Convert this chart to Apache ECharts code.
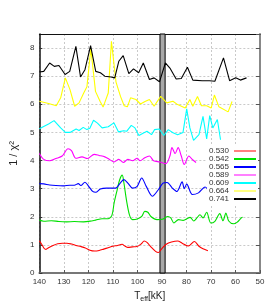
<!DOCTYPE html>
<html><head><meta charset="utf-8">
<script src="https://cdn.jsdelivr.net/npm/echarts@6/dist/echarts.min.js"></script>
<style>html,body{margin:0;padding:0;background:#fff}#c{width:274px;height:308px}</style>
</head><body><div id="c"></div>
<script>
const seriesNames = ['0.530','0.542','0.565','0.589','0.609','0.664','0.741'];
const xTicks = [140,130,120,110,100,90,80,70,60,50];
const yTicks = [0,1,2,3,4,5,6,7,8];

const T_530 = [140,139.25,138.1,137.3,136.25,134.4,132.5,130.6,128.75,126.9,125,123.1,121.25,119.4,117.5,115.6,113.75,111.9,110,108.1,106.25,105.1,103.9,102,100.25,98.4,97.25,96.1,94.5,92.6,91.4,90.1,88.25,86.1,83.6,81.75,79.25,76.75,74.9,73.25,71.25];
const V_530 = [1.14,1.05,0.88,0.84,0.9,0.98,1.04,1.06,1.06,1.03,0.98,0.94,0.89,0.81,0.78,0.8,0.85,0.9,0.95,0.98,1.02,0.96,0.91,0.93,0.94,1.04,1.14,1.09,0.93,0.77,0.73,0.86,1.02,1.1,1.14,1.06,0.96,1.12,0.95,0.86,0.79];

const T_542 = [140,138.2,135.1,132,128.9,125.75,122,118.75,117,114.4,112,110.4,109.5,108.25,107.3,106.2,105.5,104.5,103.25,102,100.1,98.25,97,95.75,94.5,92,89.5,87.6,86.4,85.1,83.25,81.4,80,78.5,77,75.75,74.5,73.25,71.75,70.1,68.4,66.4,65.1,63.9,62.75,60.8,59.4,57.6,57.1];
const V_542 = [1.88,1.84,1.86,1.83,1.82,1.83,1.82,1.85,1.88,1.93,1.93,2.05,2.49,2.96,3.3,3.48,3.2,2.61,2.07,1.9,1.92,2.01,2.19,2.16,2.01,1.9,1.92,2.01,1.96,1.78,1.9,1.87,1.92,1.98,1.85,1.96,2.07,1.96,2.16,1.78,1.84,2.11,1.86,2.13,1.85,1.75,1.8,1.96,1.98];

const T_565 = [140,138.2,135.8,133.25,130.1,127.6,125.75,124.1,123.1,121.4,120.1,118.25,117,115.1,112.6,110.1,108.9,107,105.5,103.9,102,100.1,98.25,96.4,93.9,91.4,89.5,87.9,85.75,83.9,81.75,80.9,79.9,77.6,75.1,72.4,70.5];
const V_565 = [3.18,3.17,3.13,3.11,3.1,3.12,3.12,3.18,3.11,3.23,3.11,2.9,2.87,2.99,3.02,3.02,3.02,3.2,3.32,3.2,3.02,3.08,3.38,3.08,2.73,2.97,3.2,3.22,3.02,2.9,3.24,3.0,3.16,2.79,2.85,3.06,2.85];

const T_589 = [140,138.2,135.8,133.25,130.7,128.3,126.9,125.1,122.6,120.4,117.6,115.6,113.3,111.4,109.5,107.6,105.75,103.9,102,100.1,98.9,97,95.1,93.4,90.9,88.4,86.75,85.9,84.6,83.4,82.1,80.9,79,77.75,76.1];
const V_589 = [4.25,4.04,3.99,4.07,4.16,4.42,4.35,4.08,4.13,4.07,4.22,4.18,4.13,4.04,3.95,4.04,3.93,4.04,3.99,4.08,3.99,4.1,4.16,3.99,3.95,3.89,4.16,4.46,4.25,4.46,4.16,3.86,4.16,4.05,3.93];

const T_609 = [140,136.25,134,131.3,129.4,127.5,125,123.8,122.1,120.6,119.4,117.9,116.3,114.4,111.9,109.6,107.75,105.6,104.4,102.5,101,99.4,97.5,96.1,94.25,93,91.1,89.25,87.4,85.5,83.6,81.4,79.9,78.6,77.1,74.9,73.25,71.75,70.5,69.25,67.4,66.1];
const V_609 = [5.13,5.3,5.42,5.16,5.0,5.0,5.12,5.07,5.18,5.1,5.15,5.43,5.33,5.16,5.2,5.34,5.02,5.06,5.04,5.25,5.16,4.89,4.98,5.04,4.92,5.1,5.12,4.89,5.1,4.99,4.92,5.0,5.84,5.16,4.72,4.92,5.57,4.77,5.6,5.16,5.46,4.74];

const T_664 = [140,136.25,133.1,131.3,129.4,127.5,125.6,123.8,121.9,120.6,119,117.1,115.25,114,111.9,110.6,108.75,106.9,105.4,104.1,102.8,100.6,98.75,96.9,95.1,93.2,90.5,88,85.5,83.6,80.5,78.6,77.4,75.5,73.9,71.75,69.9,68.6,66.75,63,61.4];
const V_664 = [6.11,6.03,5.95,6.23,6.94,6.52,5.93,6.05,6.4,6.62,7.97,6.46,6.11,5.9,6.4,8.24,6.8,6.28,5.95,5.91,6.23,6.17,6.01,6.1,6.17,5.93,6.28,6.05,6.11,5.99,5.87,6.17,5.93,6.28,5.95,5.95,5.87,6.33,5.91,5.73,6.1];

const T_741 = [140,138.2,135.8,133.9,132,129.5,127.6,125.1,123.2,121.4,119.1,117,115.1,113.3,110.75,109.25,107.6,105.8,103.5,101.6,99.5,97.6,95.1,93.2,91,88.6,86.75,84.2,82.1,79.6,77.4,73.6,70.6,68.4,64.9,62.4,59.9,58,55.5];
const V_741 = [7.15,7.17,7.47,7.35,7.38,7.06,7.17,8.06,6.97,7.23,8.09,7.17,7.12,7.0,6.97,6.94,7.53,7.73,7.09,7.26,7.12,7.47,6.88,6.94,6.8,7.47,7.29,6.9,6.92,7.32,6.86,6.84,6.84,6.82,7.65,6.84,6.94,6.86,6.94];

const bandRange = [88.7, 90.8];

const Ts = [T_530,T_542,T_565,T_589,T_609,T_664,T_741];
const Vs = [V_530,V_542,V_565,V_589,V_609,V_664,V_741];
const colors = ['#ff0000','#00e000','#0000ff','#ff00ff','#00ffff','#ffff00','#000000'];
const legendColors = ['#ff8080','#00e000','#0000ff','#ff80ff','#00ffff','#ffff80','#000000'];
const smoothFlags = [0.3,0.3,0.3,0.3,false,false,false];

function zip(t,v){const n=Math.min(t.length,v.length);const o=[];for(let i=0;i<n;i++)o.push([t[i],v[i]]);return o;}

const series = seriesNames.map((name,i)=>({
  name, type:'line', data: zip(Ts[i],Vs[i]), showSymbol:false, symbol:'none',
  smooth: smoothFlags[i], lineStyle:{color:colors[i], width:1.1}, itemStyle:{color:legendColors[i]},
  z: 3, animation:false
}));
series[0].markArea = {
  silent:true,
  itemStyle:{color:'#a8a8a8', borderColor:'#000', borderWidth:1},
  data:[[{xAxis:bandRange[0]},{xAxis:bandRange[1]}]]
};

const chart = echarts.init(document.getElementById('c'), null, {renderer:'canvas'});
const fontFam = '"Liberation Sans", Arial, sans-serif';
chart.setOption({
  animation:false,
  backgroundColor:'#fff',
  textStyle:{fontFamily:fontFam},
  grid:{left:20, right:14, top:34, bottom:35},
  xAxis:[{
    type:'value', min:50, max:140, interval:10, inverse:true,
    axisLine:{lineStyle:{color:'#777', width:2}},
    axisTick:{show:true, inside:true, length:3, lineStyle:{color:'#555'}},
    axisLabel:{color:'#333', fontSize:8, margin:5, fontFamily:fontFam,
      formatter:v=>xTicks.includes(v)?String(v):''},
    splitLine:{show:true, lineStyle:{color:'#bbb', type:[2,2], width:0.8}},
    name:'{a|T}{b|eff}{a|[kK]}', nameLocation:'middle', nameGap:12,
    nameTextStyle:{rich:{a:{fontSize:10, color:'#222', fontFamily:fontFam}, b:{fontSize:7, color:'#222', padding:[6,0,0,0], fontFamily:fontFam}}}
  },{
    type:'value', min:50, max:140, inverse:true, position:'top',
    axisLine:{show:true, onZero:false, lineStyle:{color:'#111', width:1}},
    axisTick:{show:false}, axisLabel:{show:false}, splitLine:{show:false}
  }],
  yAxis:[{
    type:'value', min:0, max:8.5, interval:1,
    axisLine:{show:true, lineStyle:{color:'#111', width:1.5}},
    axisTick:{show:true, inside:true, length:3, lineStyle:{color:'#333'}},
    axisLabel:{color:'#333', fontSize:8, margin:5, fontFamily:fontFam, showMaxLabel:false,
      formatter:v=>yTicks.includes(v)?String(v):''},
    splitLine:{show:true, lineStyle:{color:'#bbb', type:[2,2], width:0.8}},
    name:'1 / χ²', nameLocation:'middle', nameGap:9, nameRotate:90,
    nameTextStyle:{fontSize:11, color:'#222', fontFamily:fontFam}
  },{
    type:'value', min:0, max:8.5, interval:1, position:'right',
    axisLine:{show:true, onZero:false, lineStyle:{color:'#888', width:2}},
    axisTick:{show:true, inside:true, length:4, lineStyle:{color:'#555'}},
    axisLabel:{show:false}, splitLine:{show:false}
  }],
  legend:{
    data:seriesNames, orient:'vertical', right:16, top:145, align:'right',
    icon:'rect', itemWidth:22, itemHeight:2, itemGap:0,
    padding:[2,2,2,2], backgroundColor:'#fff',
    textStyle:{fontSize:8, color:'#333', lineHeight:7.5, fontFamily:fontFam, padding:[0,0,0,0]},
    selectedMode:false
  },
  series
});
</script></body></html>
